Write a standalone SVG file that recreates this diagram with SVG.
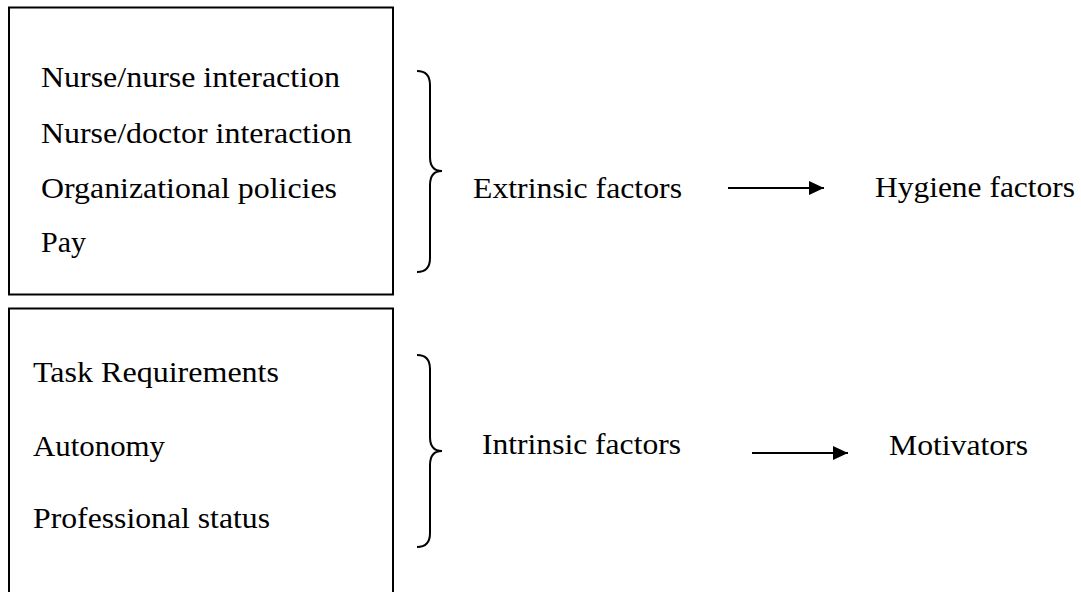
<svg xmlns="http://www.w3.org/2000/svg" width="1081" height="592" viewBox="0 0 1081 592">
<style>
.box{fill:none;stroke:#000;stroke-width:2}
.t{font-family:"Liberation Serif","Times New Roman",serif;font-size:30px;fill:#000}
.brace{fill:none;stroke:#000;stroke-width:2}
.arr{fill:none;stroke:#000;stroke-width:2}
</style>
<defs>
<marker id="ah" markerWidth="16" markerHeight="14" refX="15" refY="7" orient="auto" markerUnits="userSpaceOnUse">
<path d="M0,0 L15,7 L0,14 Z" fill="#000"/>
</marker>
</defs>
<rect width="1081" height="592" fill="#fff"/>
<g id="extrinsic-box">
<rect class="box" x="9" y="7.5" width="384" height="287"/>
<text class="t" x="41" y="87" textLength="299" lengthAdjust="spacingAndGlyphs">Nurse/nurse interaction</text>
<text class="t" x="41" y="143" textLength="311" lengthAdjust="spacingAndGlyphs">Nurse/doctor interaction</text>
<text class="t" x="41" y="198" textLength="296" lengthAdjust="spacingAndGlyphs">Organizational policies</text>
<text class="t" x="41" y="252" textLength="45" lengthAdjust="spacingAndGlyphs">Pay</text>
</g>
<g id="intrinsic-box">
<rect class="box" x="9" y="308.5" width="384" height="300"/>
<text class="t" x="33" y="382" textLength="246" lengthAdjust="spacingAndGlyphs">Task Requirements</text>
<text class="t" x="33" y="456" textLength="132" lengthAdjust="spacingAndGlyphs">Autonomy</text>
<text class="t" x="33" y="528" textLength="237" lengthAdjust="spacingAndGlyphs">Professional status</text>
</g>
<g id="extrinsic-factors">
<text class="t" x="473" y="198" textLength="209" lengthAdjust="spacingAndGlyphs">Extrinsic factors</text>
</g>
<g id="hygiene-factors">
<text class="t" x="875" y="197" textLength="200" lengthAdjust="spacingAndGlyphs">Hygiene factors</text>
</g>
<g id="intrinsic-factors">
<text class="t" x="482" y="454" textLength="199" lengthAdjust="spacingAndGlyphs">Intrinsic factors</text>
</g>
<g id="motivators">
<text class="t" x="889" y="455" textLength="139" lengthAdjust="spacingAndGlyphs">Motivators</text>
</g>
<g id="connectors">
<path class="brace" d="M417,71 Q430,71 430,85 L430,157 Q430,171 442,171 Q430,171 430,185 L430,258 Q430,272 417,272"/>
<path class="brace" d="M417,355 Q430,355 430,369 L430,437 Q430,451 442,451 Q430,451 430,465 L430,533 Q430,547 417,547"/>
<line class="arr" x1="728" y1="188" x2="824" y2="188" marker-end="url(#ah)"/>
<line class="arr" x1="752" y1="453" x2="848" y2="453" marker-end="url(#ah)"/>
</g>
</svg>
